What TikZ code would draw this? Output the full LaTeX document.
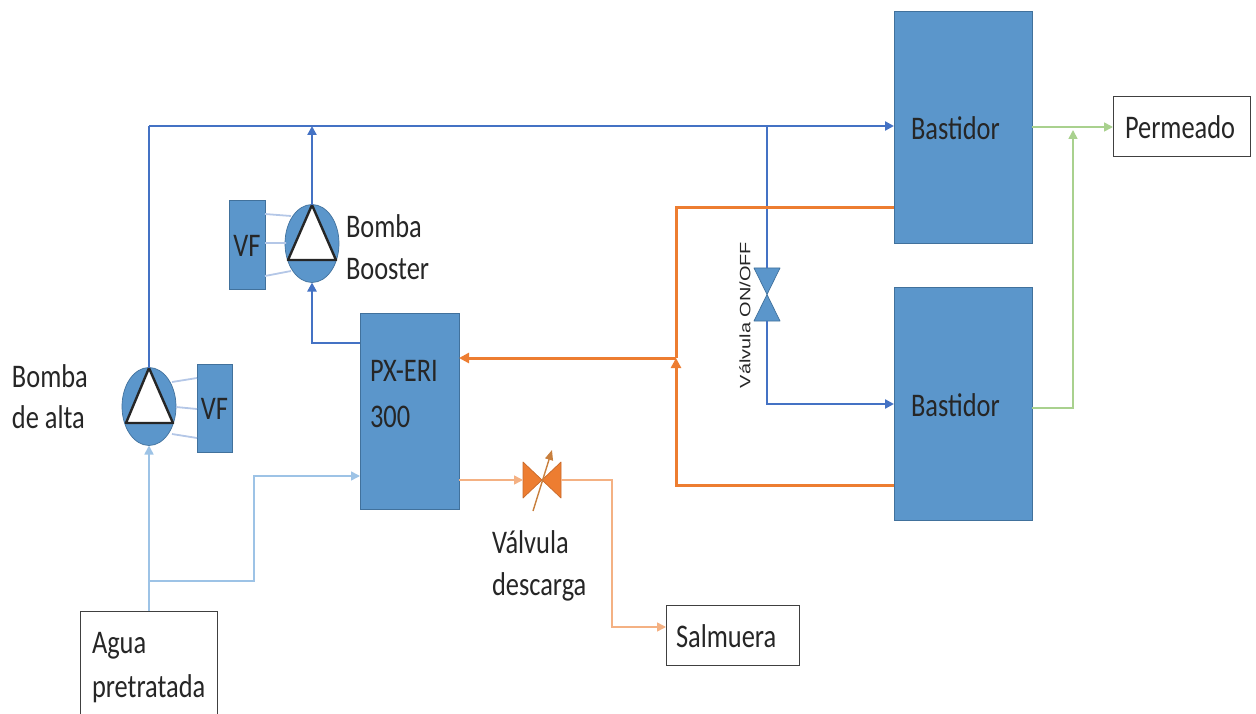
\documentclass[tikz,border=0pt]{standalone}
\usepackage{fontspec}
\setmainfont{Carlito}
\newfontfamily\rotfont{Liberation Sans}
\usetikzlibrary{arrows.meta,shapes.geometric}
\definecolor{boxblue}{HTML}{5B96CB}
\definecolor{edgeblue}{HTML}{41719C}
\definecolor{darkline}{HTML}{4472C4}
\definecolor{lightline}{HTML}{9DC3E6}
\definecolor{wireline}{HTML}{B4C7E7}
\definecolor{orangeline}{HTML}{ED7D31}
\definecolor{paleorange}{HTML}{F4B183}
\definecolor{paleGreen}{HTML}{A9D18E}
\tikzset{
 block/.style={draw=edgeblue,fill=boxblue,line width=.7pt,minimum width=#1,inner sep=0pt,outer sep=0pt},
 whitebox/.style={draw=black!75,fill=white,line width=1pt,inner sep=0pt,outer sep=0pt},
 txt/.style={font=\fontsize{33}{33}\selectfont,text=black!85,inner sep=0pt,outer sep=0pt,xscale=.8},
 pump/.style={ellipse,draw=edgeblue,fill=boxblue,line width=.7pt,inner sep=0pt,outer sep=0pt,minimum width=54,minimum height=78},
 tri/.style={draw=black!85,fill=white,line width=2.4pt,line join=round},
 mainflow/.style={draw=darkline,line width=2.6pt},
 lightflow/.style={draw=lightline,line width=1.6pt},
 brine/.style={draw=orangeline,line width=3pt},
 waste/.style={draw=paleorange,line width=1.6pt},
 product/.style={draw=paleGreen,line width=1.6pt},
 wire/.style={draw=wireline,line width=1.8pt},
 flowtip/.style={-{Triangle[length=#1,width=#1]}},
}
\begin{document}
\begin{tikzpicture}[x=1pt,y=-1pt]
\useasboundingbox (0,0) rectangle (1256,714);
% blocks
\node[block=138pt,minimum height=232pt] (b1) at (963,127) {};
\node[block=138pt,minimum height=233pt] (b2) at (963,403.5) {};
\node[block=99pt,minimum height=196pt] (px) at (409.5,411) {};
\node[block=35pt,minimum height=88pt] (vf1) at (214.5,408) {};
\node[block=36pt,minimum height=89pt] (vf2) at (247,244.5) {};
\node[whitebox,minimum width=137pt,minimum height=60pt] (perm) at (1181.5,127) {};
\node[whitebox,minimum width=133pt,minimum height=60pt] (salm) at (732.5,635) {};
\node[whitebox,minimum width=137pt,minimum height=105pt] (agua) at (148.5,663.5) {};
% pumps
\node[pump] (p1) at (149,406.5) {};
\node[pump] (p2) at (312,243.5) {};
\coordinate (p1a) at (149,368); \coordinate (p1l) at (126,423); \coordinate (p1r) at (173,423);
\coordinate (p2a) at (312,205); \coordinate (p2l) at (288,260); \coordinate (p2r) at (336,260);
% wires
\coordinate (w1a) at (172,382); \coordinate (w1b) at (197,378);
\coordinate (w1c) at (176,407); \coordinate (w1d) at (197,409);
\coordinate (w1e) at (172,434); \coordinate (w1f) at (197,438);
\coordinate (w2a) at (265,214); \coordinate (w2b) at (291,216);
\coordinate (w2c) at (265,243); \coordinate (w2d) at (286,243);
\coordinate (w2e) at (265,276); \coordinate (w2f) at (291,271);
\draw[wire] (w1a)--(w1b) (w1c)--(w1d) (w1e)--(w1f) (w2a)--(w2b) (w2c)--(w2d) (w2e)--(w2f);
\draw[tri] (p1a)--(p1l)--(p1r)--cycle;
\draw[tri] (p2a)--(p2l)--(p2r)--cycle;
% junction coordinates
\coordinate (n1) at (149,126);
\coordinate (n2) at (312,126);
\coordinate (n3) at (767,126);
\coordinate (in1) at (b1.west|-n1);
% on/off valve
\coordinate (vt) at (767,268); \coordinate (vb) at (767,321); \coordinate (vc) at (767,295);
\draw[edgeblue,fill=boxblue,line width=.7pt,line join=round] (754,268)--(780,268)--(754,321)--(780,321)--cycle;
% discharge valve
\coordinate (dl) at (523,480); \coordinate (dr) at (561,480);
\draw[draw=orangeline!85!black,fill=orangeline,line width=.7pt,line join=round] (523,462)--(561,498)--(561,462)--(523,498)--cycle;
\coordinate (ds) at (533,511); \coordinate (de) at (552,450);
\draw[-{Triangle[length=10pt,width=8pt]},draw=brown!80!orangeline,fill=brown!80!orangeline,line width=1.4pt] (ds)--(de);
% main flows
\draw[mainflow] (p1a)--(n1);
\draw[mainflow,flowtip=9pt] (n1)--(in1);
\draw[mainflow,flowtip=9pt] (p2a)--(n2);
\draw[mainflow,flowtip=9pt] (px.west|-0,343)--(312,343)--(p2.south);
\draw[mainflow] (n3)--(vt);
\draw[mainflow,flowtip=9pt] (vb)--(767,404)--(b2.west|-0,404);
% brine
\coordinate (j) at (676,358);
\draw[brine] (b1.west|-0,208)--(676,208)--(j);
\draw[brine,flowtip=10pt] (j)--(px.east|-j);
\draw[brine,flowtip=10pt] (b2.west|-0,485)--(676,485)--(j);
% waste
\draw[waste,flowtip=9pt] (px.east|-dl)--(dl);
\draw[waste,flowtip=9pt] (dr)--(612,480)--(612,627)--(salm.west|-0,627);
% feed
\draw[lightflow,flowtip=9pt] (agua.north-|p1a)--(p1.south);
\draw[lightflow,flowtip=9pt] (149,581)--(254,581)--(254,476)--(px.west|-0,476);
% permeate
\draw[product,flowtip=9pt] (b1.east|-0,127)--(perm.west|-0,127);
\coordinate (g) at (1073,408);
\draw[product,flowtip=9pt] (b2.east|-g)--(g)--(1073,130);
% labels
\node[txt,anchor=west] (t1) at (911,128) {Bastidor};
\node[txt,anchor=west] (t2) at (911,405) {Bastidor};
\node[txt,anchor=west] (t3) at (1125,127) {Permeado};
\node[txt,anchor=west] (t4) at (676,636) {Salmuera};
\node[txt,anchor=west] (t5) at (92,646) {Agua};
\node[txt,anchor=west] (t6) at (92,689) {pretratada};
\node[txt,anchor=west] (t7) at (370,371) {PX-ERI};
\node[txt,anchor=west] (t8) at (370,417) {300};
\node[txt,anchor=center] (t9) at (214.5,409) {VF};
\node[txt,anchor=center] (t10) at (247,246) {VF};
\node[txt,anchor=west] (t11) at (346,226) {Bomba};
\node[txt,anchor=west] (t12) at (346,269) {Booster};
\node[txt,anchor=west] (t13) at (12,376) {Bomba};
\node[txt,anchor=west] (t14) at (12,417) {de alta};
\node[txt,anchor=west] (t15) at (492,542) {Válvula};
\node[txt,anchor=west] (t16) at (492,587) {descarga};
\node[rotate=90,font=\rotfont\fontsize{15}{15}\selectfont,text=black!85,inner sep=0pt] (t17) at (745,315) {\scalebox{1.33}[1]{Válvula ON/OFF}};
\end{tikzpicture}
\end{document}
